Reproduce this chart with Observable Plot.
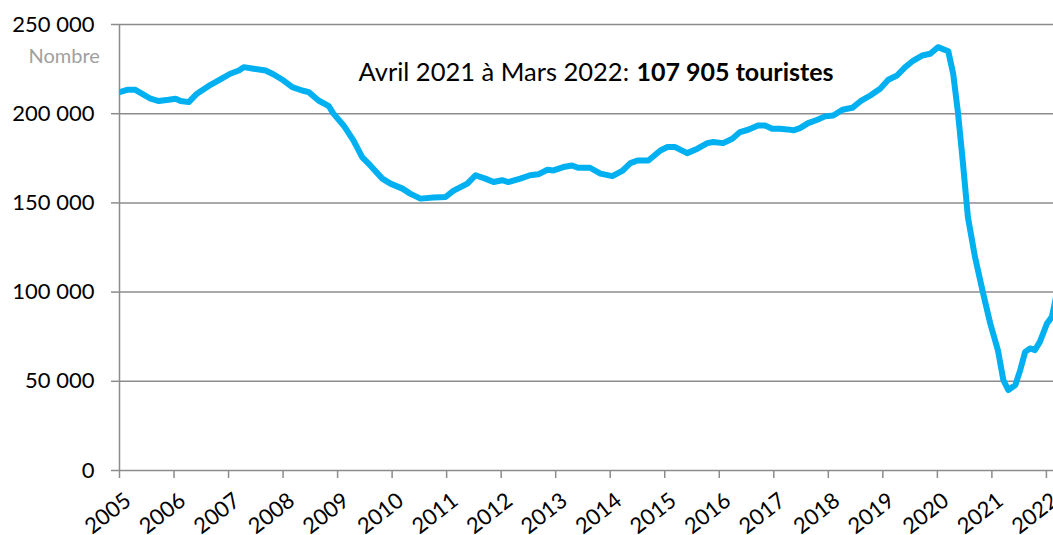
<!DOCTYPE html>
<html>
<head>
<meta charset="utf-8">
<script src="https://cdn.jsdelivr.net/npm/d3@7"></script>
<script src="https://cdn.jsdelivr.net/npm/@observablehq/plot@0.6"></script>
<style>
  html, body { margin: 0; padding: 0; background: #fff; }
  #chart { width: 1053px; height: 535px; overflow: hidden; }
</style>
</head>
<body>
<div id="chart"></div>
<script>
// Time (decimal years) and 12-month rolling number of tourists
const times = [
  2005.00, 2005.14, 2005.29, 2005.45, 2005.57, 2005.72, 2005.90, 2006.03, 2006.12, 2006.27,
  2006.42, 2006.67, 2006.85, 2007.03, 2007.19, 2007.28, 2007.46, 2007.68, 2007.83, 2008.01,
  2008.17, 2008.35, 2008.47, 2008.65, 2008.84, 2008.92, 2009.11, 2009.29, 2009.45, 2009.60,
  2009.82, 2009.97, 2010.19, 2010.33, 2010.52, 2010.76, 2010.98, 2011.12, 2011.38, 2011.53,
  2011.71, 2011.86, 2012.02, 2012.13, 2012.35, 2012.53, 2012.68, 2012.85, 2012.96, 2013.14,
  2013.30, 2013.41, 2013.63, 2013.82, 2014.04, 2014.22, 2014.37, 2014.50, 2014.70, 2014.92,
  2015.05, 2015.19, 2015.41, 2015.60, 2015.78, 2015.89, 2016.07, 2016.24, 2016.38, 2016.53,
  2016.71, 2016.84, 2016.97, 2017.11, 2017.25, 2017.36, 2017.48, 2017.63, 2017.80, 2017.94,
  2018.09, 2018.26, 2018.44, 2018.59, 2018.77, 2018.95, 2019.10, 2019.26, 2019.41, 2019.56,
  2019.72, 2019.87, 2020.01, 2020.20, 2020.29, 2020.38, 2020.47, 2020.56, 2020.69, 2020.84,
  2020.97, 2021.11, 2021.21, 2021.30, 2021.43, 2021.52, 2021.61, 2021.70, 2021.79, 2021.88,
  2022.01, 2022.10, 2022.25
];
const tourists = [
  212100, 213400, 213400, 210600, 208400, 207100, 207800, 208400, 207100, 206500,
  211200, 216200, 219200, 222400, 224200, 226100, 225200, 224200, 222000, 218600,
  214900, 213000, 212100, 207400, 204200, 200200, 193400, 185000, 175700, 171000,
  163600, 160800, 158000, 155200, 152400, 153000, 153300, 156700, 160800, 165500,
  163600, 161700, 162700, 161700, 163600, 165500, 166000, 168600, 168200, 170100,
  171000, 169700, 169700, 166400, 165000, 167900, 172300, 173800, 173800, 179400,
  181300, 181300, 177900, 180400, 183500, 184100, 183500, 186000, 189700, 191000,
  193400, 193400, 191600, 191600, 191200, 190700, 191900, 194700, 196600, 198500,
  199000, 202200, 203300, 207000, 210200, 214000, 219000, 221400, 226100, 229800,
  232600, 233600, 237300, 235000, 222400, 200000, 172000, 142100, 119700, 99200,
  82400, 67500, 50700, 45100, 47900, 56300, 66500, 68400, 67500, 72100,
  82400, 86100, 107905
];
const yearTicks = d3.range(2005, 2023);
const valueTicks = [0, 50000, 100000, 150000, 200000, 250000];
const yLabel = "Nombre";
const notePlain = "Avril 2021 à Mars 2022:";
const noteBold = "107 905 touristes";

const data = times.map((t, i) => ({t, v: tourists[i]}));
const grid = "#8c8c8c";
const fmt = d => d3.format(",")(d).replace(/,/g, " ");

const chart = Plot.plot({
  width: 1053,
  height: 535,
  marginLeft: 119,
  marginRight: 0,
  marginTop: 24,
  marginBottom: 65,
  style: {fontFamily: "Lato", fontSize: "22px", color: "#000", background: "#fff", overflow: "hidden"},
  x: {domain: [2005, 2022.13]},
  y: {domain: [0, 250000]},
  marks: [
    Plot.ruleY(valueTicks, {stroke: grid, strokeWidth: 1.5}),
    Plot.ruleX([2005], {stroke: grid, strokeWidth: 1.5}),
    Plot.axisY({ticks: valueTicks, tickSize: 8, tickPadding: 17, tickFormat: fmt, label: null, stroke: grid, strokeWidth: 1.5, fontSize: 22}),
    Plot.axisX({ticks: yearTicks, tickSize: 8, tickFormat: () => "", label: null, stroke: grid, strokeWidth: 1.5}),
    Plot.text(yearTicks, {x: d => d, frameAnchor: "bottom", text: d => String(d), rotate: -38, textAnchor: "end", lineAnchor: "bottom", dx: 13, dy: 33, fontSize: 22, fill: "#000"}),
    Plot.text([yLabel], {frameAnchor: "top-left", text: d => d, dx: -91, dy: 32, fontSize: 20, fill: "#a0a0a0", textAnchor: "start", lineAnchor: "middle"}),
    Plot.text([notePlain], {frameAnchor: "top-left", text: d => d, dx: 239, dy: 48, fontSize: 25.5, fill: "#000", textAnchor: "start", lineAnchor: "middle"}),
    Plot.text([noteBold], {frameAnchor: "top-left", text: d => d, dx: 517, dy: 48, fontSize: 25, fontWeight: "bold", fill: "#000", textAnchor: "start", lineAnchor: "middle"}),
    Plot.line(data, {x: "t", y: "v", stroke: "#00B0F0", strokeWidth: 6, strokeLinejoin: "round", strokeLinecap: "round", clip: true})
  ]
});
document.getElementById("chart").append(chart);
</script>
</body>
</html>
